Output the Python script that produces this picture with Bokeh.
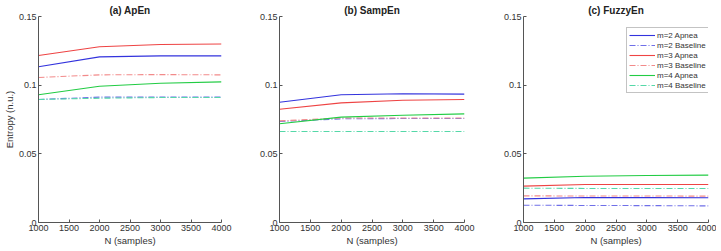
from bokeh.plotting import figure
from bokeh.layouts import row
from bokeh.models import FixedTicker, Legend, LegendItem
from bokeh.embed import file_html
from bokeh.resources import INLINE

N = [1000, 2000, 3000, 4000]

# (a) ApEn
apen_m2_apnea = [0.1134, 0.1206, 0.1213, 0.1213]
apen_m2_base = [0.0896, 0.0913, 0.0913, 0.0913]
apen_m3_apnea = [0.1216, 0.1280, 0.1296, 0.1300]
apen_m3_base = [0.1056, 0.1075, 0.1077, 0.1075]
apen_m4_apnea = [0.0930, 0.0992, 0.1014, 0.1024]
apen_m4_base = [0.0896, 0.0905, 0.0910, 0.0910]

# (b) SampEn
sampen_m2_apnea = [0.0876, 0.0930, 0.0937, 0.0935]
sampen_m2_base = [0.0735, 0.0755, 0.0757, 0.0757]
sampen_m3_apnea = [0.0825, 0.0871, 0.0890, 0.0896]
sampen_m3_base = [0.0740, 0.0761, 0.0761, 0.0761]
sampen_m4_apnea = [0.0719, 0.0767, 0.0781, 0.0791]
sampen_m4_base = [0.0663, 0.0663, 0.0663, 0.0663]

# (c) FuzzyEn
fuzzy_m2_apnea = [0.0172, 0.0182, 0.0181, 0.0180]
fuzzy_m2_base = [0.0126, 0.0124, 0.0123, 0.0121]
fuzzy_m3_apnea = [0.0265, 0.0277, 0.0277, 0.0277]
fuzzy_m3_base = [0.0194, 0.0193, 0.0193, 0.0192]
fuzzy_m4_apnea = [0.0323, 0.0337, 0.0342, 0.0345]
fuzzy_m4_base = [0.0250, 0.0248, 0.0248, 0.0248]

labels = ["m=2 Apnea", "m=2 Baseline", "m=3 Apnea", "m=3 Baseline", "m=4 Apnea", "m=4 Baseline"]
titles = ["(a) ApEn", "(b) SampEn", "(c) FuzzyEn"]
y_ticks = [0, 0.05, 0.1, 0.15]
x_ticks = [1000, 1500, 2000, 2500, 3000, 3500, 4000]

colors = ["#3333dd", "#6f6fe8", "#ee4444", "#f28a8a", "#22cc44", "#55d8a8"]
dashes = ["solid", "6 2 1 2", "solid", "6 2 1 2", "solid", "6 2 1 2"]

panels = [
    [apen_m2_apnea, apen_m2_base, apen_m3_apnea, apen_m3_base, apen_m4_apnea, apen_m4_base],
    [sampen_m2_apnea, sampen_m2_base, sampen_m3_apnea, sampen_m3_base, sampen_m4_apnea, sampen_m4_base],
    [fuzzy_m2_apnea, fuzzy_m2_base, fuzzy_m3_apnea, fuzzy_m3_base, fuzzy_m4_apnea, fuzzy_m4_base],
]

frame_w = [186, 185, 185]
borders_left = [35, 29, 33]
borders_right = [29, 26, 8]

FONT = "Liberation Sans"
figs = []
for i, series in enumerate(panels):
    p = figure(width=borders_left[i] + frame_w[i] + borders_right[i], frame_height=206,
               output_backend="svg", toolbar_location=None,
               x_range=(1000, 4000), y_range=(0, 0.15),
               min_border_left=borders_left[i], min_border_right=borders_right[i],
               min_border_top=16, min_border_bottom=4)
    p.title.text = titles[i]
    p.title.align = "center"
    p.title.text_font = FONT
    p.title.text_font_size = "10px"
    p.title.text_font_style = "bold"
    p.title.text_color = "#222222"
    p.title.standoff = 1
    p.outline_line_color = None
    p.xgrid.visible = False
    p.ygrid.visible = False
    renderers = []
    for j, ys in enumerate(series):
        r = p.line(N, ys, line_color=colors[j], line_width=1.1, line_dash=dashes[j])
        renderers.append(r)
    for ax in (p.xaxis[0], p.yaxis[0]):
        ax.major_label_text_font = FONT
        ax.major_label_text_font_size = "9px"
        ax.major_label_text_color = "#333333"
        ax.axis_line_color = "#555555"
        ax.major_tick_line_color = "#555555"
        ax.major_tick_in = 3
        ax.major_tick_out = 0
        ax.minor_tick_line_color = None
        ax.major_label_standoff = 2
        ax.axis_label_text_font = FONT
        ax.axis_label_text_font_size = "9.5px"
        ax.axis_label_text_font_style = "normal"
        ax.axis_label_text_color = "#333333"
        ax.axis_label_standoff = 1
    p.xaxis.ticker = FixedTicker(ticks=x_ticks)
    p.yaxis.ticker = FixedTicker(ticks=y_ticks)
    p.yaxis.major_label_overrides = {0: "0", 0.05: "0.05", 0.1: "0.1", 0.15: "0.15"}
    p.xaxis.axis_label = "N (samples)"
    if i == 0:
        p.yaxis.axis_label = "Entropy (n.u.)"
    if i == 2:
        legend = Legend(items=[LegendItem(label=labels[k], renderers=[renderers[k]]) for k in range(6)],
                        location=(103, 129))
        legend.label_text_font = FONT
        legend.label_text_font_size = "8px"
        legend.label_text_color = "#333333"
        legend.glyph_width = 26
        legend.glyph_height = 10
        legend.label_height = 10
        legend.spacing = 0
        legend.padding = 2
        legend.margin = 0
        legend.label_standoff = 2
        legend.border_line_color = "#888888"
        legend.background_fill_alpha = 1
        p.add_layout(legend)
    figs.append(p)

layout = row(*figs, spacing=0)
open("out.html", "w").write(file_html(layout, INLINE))
